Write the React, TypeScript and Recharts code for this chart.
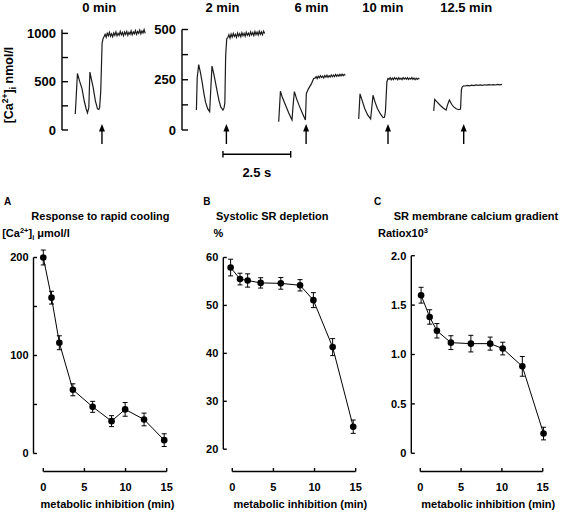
import React from 'react';
import { LineChart, Line, XAxis, YAxis, ErrorBar, ReferenceLine, ReferenceDot } from 'recharts';

const FONT = '"Liberation Sans", Arial, Helvetica, sans-serif';
const PX_PER_S = 27.1;

type Pt = [number, number];

// Ca2+ transients before/after rapid cooling: [time (s), nmol/l]
const trace0min: Pt[] = [
  [0, 166], [0.08, 585], [0.16, 505], [0.25, 425], [0.33, 300], [0.4, 220], [0.45, 178], [0.5, 230],
  [0.54, 600], [0.6, 520], [0.66, 440], [0.74, 305], [0.82, 218], [0.87, 212], [0.9, 235], [0.94, 400],
  [0.97, 700], [0.99, 900], [1.03, 950],
  [1.06, 965], [1.1, 990], [1.14, 960], [1.18, 1000], [1.22, 975], [1.26, 1010], [1.3, 970], [1.34, 995],
  [1.38, 965], [1.42, 1005], [1.46, 980], [1.5, 1015], [1.54, 975], [1.58, 1000], [1.62, 980], [1.66, 1020],
  [1.7, 985], [1.74, 1010], [1.78, 975], [1.82, 1015], [1.86, 990], [1.9, 1020], [1.94, 980], [1.98, 1010],
  [2.02, 990], [2.06, 1025], [2.1, 985], [2.14, 1015], [2.18, 995], [2.22, 1030], [2.26, 990], [2.3, 1020],
  [2.34, 1000], [2.38, 1035], [2.42, 995], [2.46, 1025], [2.5, 1005], [2.54, 1040], [2.58, 1000],
];
const trace2min: Pt[] = [
  [0, 99], [0.03, 260], [0.085, 325], [0.15, 285], [0.21, 239], [0.28, 180], [0.34, 137], [0.42, 105],
  [0.49, 91], [0.53, 200], [0.576, 318], [0.64, 280], [0.7, 239], [0.77, 190], [0.83, 149], [0.9, 115],
  [0.98, 99], [1.02, 110], [1.05, 135], [1.08, 371], [1.12, 454],
  [1.16, 460], [1.2, 474], [1.24, 457], [1.28, 477], [1.32, 462], [1.36, 480], [1.4, 465], [1.44, 476],
  [1.48, 461], [1.52, 482], [1.56, 467], [1.6, 479], [1.64, 464], [1.68, 484], [1.72, 469], [1.76, 481],
  [1.8, 466], [1.84, 486], [1.88, 471], [1.92, 482], [1.96, 469], [2.0, 488], [2.04, 473], [2.08, 485],
  [2.12, 470], [2.16, 490], [2.2, 475], [2.24, 487], [2.28, 472], [2.32, 491], [2.36, 476], [2.4, 488],
  [2.44, 474], [2.48, 492], [2.52, 480],
];
const trace6min: Pt[] = [
  [0, 41], [0.063, 193], [0.14, 160], [0.25, 124], [0.37, 85], [0.49, 50], [0.53, 120], [0.578, 191],
  [0.66, 155], [0.76, 120], [0.87, 85], [0.985, 50], [1.02, 182], [1.1, 206], [1.2, 228], [1.29, 256],
  [1.34, 258], [1.38, 266], [1.42, 256], [1.46, 268], [1.5, 260], [1.54, 270], [1.58, 261], [1.62, 268],
  [1.66, 259], [1.7, 271], [1.74, 263], [1.78, 272], [1.82, 262], [1.86, 270], [1.9, 264], [1.94, 274],
  [1.98, 265], [2.02, 273], [2.06, 266], [2.1, 276], [2.14, 267], [2.18, 275], [2.22, 268], [2.26, 277],
  [2.3, 269], [2.34, 278], [2.38, 270], [2.42, 277], [2.46, 272],
];
const trace10min: Pt[] = [
  [0, 55], [0.048, 180], [0.12, 150], [0.22, 107], [0.33, 75], [0.44, 55], [0.528, 173], [0.6, 140],
  [0.69, 107], [0.8, 80], [0.9, 62], [0.95, 63], [0.985, 90], [1.04, 239], [1.08, 256],
  [1.12, 252], [1.16, 260], [1.2, 250], [1.24, 258], [1.28, 251], [1.32, 261], [1.36, 253], [1.4, 259],
  [1.44, 250], [1.48, 260], [1.52, 252], [1.56, 258], [1.6, 251], [1.64, 261], [1.68, 253], [1.72, 259],
  [1.76, 252], [1.8, 260], [1.84, 251], [1.88, 258], [1.92, 253], [1.96, 261], [2.0, 252], [2.04, 259],
  [2.08, 250], [2.12, 258], [2.16, 252], [2.2, 257], [2.24, 254],
];
const trace12min: Pt[] = [
  [0, 95], [0.037, 152], [0.12, 140], [0.247, 122], [0.36, 108], [0.458, 99], [0.51, 125], [0.579, 149],
  [0.66, 128], [0.738, 115], [0.83, 106], [0.923, 101], [0.99, 104], [1.022, 200], [1.048, 214], [1.107, 220],
  [1.16, 219], [1.24, 222], [1.32, 220], [1.4, 223], [1.48, 221], [1.56, 224], [1.64, 222], [1.72, 224],
  [1.8, 222], [1.88, 225], [1.96, 223], [2.04, 226], [2.12, 224], [2.2, 226], [2.28, 224], [2.36, 227],
  [2.44, 225], [2.52, 227],
];

const traceTitles = ['0 min', '2 min', '6 min', '10 min', '12.5 min'];
const coolAt = [0.985, 1.107, 1.011, 1.081, 1.107];
const scaleBar = [0.98, 3.48]; // 2.5 s

// panel A: response to rapid cooling (umol/l)
const timeA = [0, 1, 1.95, 3.6, 6, 8.3, 9.95, 12.25, 14.7];
const coolResp = [200, 159, 113, 65, 47.6, 33, 45, 34.7, 13.6];
const coolErr = [7.6, 6.5, 7.1, 6.1, 5.6, 5.6, 7, 6.5, 6.5];

// panel B: systolic SR depletion (%)
const timeB = [-0.2, 0.94, 1.87, 3.45, 5.9, 8.24, 9.86, 12.2, 14.7];
const depletion = [57.9, 55.5, 55.2, 54.7, 54.6, 54.2, 51.1, 41.3, 24.7];
const depletionErr = [1.74, 1.22, 1.39, 1.08, 1.22, 1.18, 1.56, 1.77, 1.39];

// panel C: SR membrane calcium gradient (ratio x10^3)
const timeC = [0.1, 1.15, 2.04, 3.75, 6.2, 8.56, 10.1, 12.5, 15.1];
const gradient = [1.6, 1.38, 1.24, 1.12, 1.11, 1.11, 1.06, 0.88, 0.2];
const gradientErr = [0.08, 0.073, 0.073, 0.07, 0.084, 0.066, 0.064, 0.1, 0.064];

const txt = { fontFamily: FONT, fontWeight: 'bold' as const, fill: '#000' };

const Arrow = (p: any) => (
  <g>
    <line x1={p.cx} x2={p.cx} y1={p.cy} y2={p.cy + 14} stroke="#000" strokeWidth={1.4} />
    <polygon points={`${p.cx},${p.cy - 6} ${p.cx - 3},${p.cy + 1.5} ${p.cx + 3},${p.cy + 1.5}`} fill="#000" />
  </g>
);

const ScaleBar = (p: any) => {
  const y = p.y1 + 24.3;
  return (
    <g>
      <line x1={p.x1} x2={p.x2} y1={y} y2={y} stroke="#000" strokeWidth={1.4} />
      <line x1={p.x1} x2={p.x1} y1={y - 3.3} y2={y + 3.3} stroke="#000" strokeWidth={1.4} />
      <line x1={p.x2} x2={p.x2} y1={y - 3.3} y2={y + 3.3} stroke="#000" strokeWidth={1.4} />
      <text x={(p.x1 + p.x2) / 2} y={y + 22.4} textAnchor="middle" fontSize={13} {...txt}>2.5 s</text>
    </g>
  );
};

interface TraceProps {
  data: Pt[];
  yMax: number;
  start: number;
  tMin: number;
  tMax: number;
  cool: number;
  ticks?: number[];
  labelled?: number[];
  children?: React.ReactNode;
}

const TraceChart = ({ data, yMax, start, tMin, tMax, cool, ticks, labelled = [], children }: TraceProps) => {
  const yw = ticks ? 40 : 0;
  const plotW = (tMax - tMin) * PX_PER_S;
  const left = start + tMin * PX_PER_S - yw;
  const rows = data.map(([t, v]) => ({ t, v }));
  return (
    <div style={{ position: 'absolute', left, top: 20 }}>
      <LineChart width={yw + plotW + 2} height={160} data={rows} margin={{ top: 9.5, right: 2, bottom: 50, left: 0 }}>
        <XAxis type="number" dataKey="t" domain={[tMin, tMax]} hide />
        <YAxis
          type="number"
          domain={[0, yMax]}
          hide={!ticks}
          width={yw}
          ticks={ticks}
          interval={0}
          axisLine={{ stroke: '#000', strokeWidth: 1.4 }}
          tickLine={false}
          tickSize={0}
          tickMargin={0}
          tick={(p: any) => (
            <g>
              <line x1={p.x} x2={p.x + 6} y1={p.y} y2={p.y} stroke="#000" strokeWidth={1.4} />
              {labelled.includes(p.payload.value) && (
                <text x={p.x - 6} y={p.y} dy="0.36em" textAnchor="end" fontSize={13} {...txt}>
                  {p.payload.value}
                </text>
              )}
            </g>
          )}
        />
        <Line type="linear" dataKey="v" stroke="#1c1c1c" strokeWidth={1.2} dot={false} isAnimationActive={false} />
        <ReferenceDot x={cool} y={0} shape={Arrow} />
        {children}
      </LineChart>
    </div>
  );
};

interface PanelProps {
  left: number;
  width: number;
  yw: number;
  right: number;
  top: number;
  time: number[];
  values: number[];
  errors: number[];
  xMin: number;
  yDomain: [number, number];
  yTicks: number[];
  yLabelled: number[];
  fmt: (v: number) => string;
}

const Panel = ({ left, width, yw, right, top, time, values, errors, xMin, yDomain, yTicks, yLabelled, fmt }: PanelProps) => {
  const rows = time.map((t, i) => ({ t, v: values[i], e: errors[i] }));
  const yLow = yTicks[0];
  const yHigh = yTicks[yTicks.length - 1];
  return (
    <div style={{ position: 'absolute', left, top: 240 }}>
      <LineChart width={width} height={273} data={rows} margin={{ top: top - 240, right, bottom: 0, left: 0 }}>
        <XAxis
          type="number"
          dataKey="t"
          domain={[xMin, 16]}
          allowDataOverflow
          ticks={[0, 5, 10, 15]}
          interval={0}
          height={41.5}
          axisLine={false}
          tickLine={false}
          tickSize={0}
          tickMargin={0}
          tick={(p: any) => (
            <g>
              <line x1={p.x} x2={p.x} y1={p.y} y2={p.y - 3.5} stroke="#000" strokeWidth={1.4} />
              <text x={p.x} y={p.y + 19} textAnchor="middle" fontSize={11} {...txt}>
                {p.payload.value}
              </text>
            </g>
          )}
        />
        <YAxis
          type="number"
          domain={yDomain}
          allowDataOverflow
          ticks={yTicks}
          interval={0}
          width={yw}
          axisLine={false}
          tickLine={false}
          tickSize={0}
          tickMargin={0}
          tick={(p: any) => (
            <g>
              <line x1={p.x} x2={p.x + 3.5} y1={p.y} y2={p.y} stroke="#000" strokeWidth={1.4} />
              {yLabelled.includes(p.payload.value) && (
                <text x={p.x - 5} y={p.y} dy="0.36em" textAnchor="end" fontSize={11} {...txt}>
                  {fmt(p.payload.value)}
                </text>
              )}
            </g>
          )}
        />
        <ReferenceLine segment={[{ x: xMin, y: yLow }, { x: xMin, y: yHigh }]} stroke="#000" strokeWidth={1.4} ifOverflow="visible" />
        <ReferenceLine segment={[{ x: 0, y: yDomain[0] }, { x: 15, y: yDomain[0] }]} stroke="#000" strokeWidth={1.4} ifOverflow="visible" />
        <Line
          type="linear"
          dataKey="v"
          stroke="#000"
          strokeWidth={1}
          dot={{ r: 3.3, fill: '#000', stroke: 'none' }}
          isAnimationActive={false}
        >
          <ErrorBar dataKey="e" width={2.5} stroke="#000" strokeWidth={1} direction="y" />
        </Line>
      </LineChart>
    </div>
  );
};

const TITLE_X = [99.2, 222.5, 311.5, 382.8, 466.2];

export default function App() {
  return (
    <div style={{ position: 'absolute', left: 0, top: 0, width: 567, height: 513, background: '#fff' }}>
      <TraceChart data={trace0min} yMax={1000} start={75} tMin={-0.49} tMax={2.62} cool={coolAt[0]}
        ticks={[0, 250, 500, 750, 1000]} labelled={[0, 500, 1000]} />
      <TraceChart data={trace2min} yMax={500} start={196.7} tMin={-0.531} tMax={3.55} cool={coolAt[1]}
        ticks={[0, 125, 250, 375, 500]} labelled={[0, 250, 500]}>
        <ReferenceLine segment={[{ x: scaleBar[0], y: 0 }, { x: scaleBar[1], y: 0 }]} ifOverflow="visible" shape={ScaleBar} />
      </TraceChart>
      <TraceChart data={trace6min} yMax={500} start={278.3} tMin={-0.1} tMax={2.55} cool={coolAt[2]} />
      <TraceChart data={trace10min} yMax={500} start={359} tMin={-0.1} tMax={2.35} cool={coolAt[3]} />
      <TraceChart data={trace12min} yMax={500} start={433.3} tMin={-0.1} tMax={2.6} cool={coolAt[4]} />

      <Panel left={0} width={180} yw={33.5} right={5.1} top={247.7} time={timeA} values={coolResp} errors={coolErr}
        xMin={-1.19} yDomain={[-18.4, 210]} yTicks={[0, 50, 100, 150, 200]} yLabelled={[0, 100, 200]} fmt={(v) => String(v)} />
      <Panel left={180} width={190} yw={43.3} right={6.1} top={247.9} time={timeB} values={depletion} errors={depletionErr}
        xMin={-1.09} yDomain={[15.35, 62]} yTicks={[20, 30, 40, 50, 60]} yLabelled={[20, 30, 40, 50, 60]} fmt={(v) => String(v)} />
      <Panel left={367} width={200} yw={44.3} right={16.1} top={245.8} time={timeC} values={gradient} errors={gradientErr}
        xMin={-1.1} yDomain={[-0.184, 2.1]} yTicks={[0, 0.5, 1, 1.5, 2]} yLabelled={[0, 0.5, 1, 1.5, 2]}
        fmt={(v) => (v === 0 ? '0' : v.toFixed(1))} />

      <svg width={567} height={513} style={{ position: 'absolute', left: 0, top: 0, pointerEvents: 'none' }}>
        {traceTitles.map((s, i) => (
          <text key={s} x={TITLE_X[i]} y={11.5} textAnchor="middle" fontSize={13} {...txt}>{s}</text>
        ))}
        <text transform="translate(12.5,85) rotate(-90)" textAnchor="middle" fontSize={12.5} {...txt}>
          [Ca<tspan fontSize={8.5} dy={-5}>2+</tspan><tspan dy={5}>]</tspan><tspan fontSize={8.5} dy={3}>i</tspan>
          <tspan dy={-3}>{' nmol/l'}</tspan>
        </text>

        <text x={4} y={205} fontSize={10} {...txt}>A</text>
        <text x={203.3} y={205} fontSize={10} {...txt}>B</text>
        <text x={374} y={205} fontSize={10} {...txt}>C</text>

        <text x={100.4} y={219.5} textAnchor="middle" fontSize={11} {...txt}>Response to rapid cooling</text>
        <text x={272.2} y={219.5} textAnchor="middle" fontSize={11} {...txt}>Systolic SR depletion</text>
        <text x={476} y={219.5} textAnchor="middle" fontSize={11} {...txt}>SR membrane calcium gradient</text>

        <text x={2.2} y={237.4} fontSize={11} {...txt}>
          [Ca<tspan fontSize={7.5} dy={-4}>2+</tspan><tspan dy={4}>]</tspan><tspan fontSize={7.5} dy={2.5}>i</tspan>
          <tspan dy={-2.5}>{' μmol/l'}</tspan>
        </text>
        <text x={213.4} y={237.4} fontSize={11} {...txt}>%</text>
        <text x={378} y={237.4} fontSize={11} {...txt}>
          Ratiox10<tspan fontSize={7.5} dy={-4}>3</tspan>
        </text>

        <text x={107.5} y={508} textAnchor="middle" fontSize={11} {...txt}>metabolic inhibition (min)</text>
        <text x={300.3} y={508} textAnchor="middle" fontSize={11} {...txt}>metabolic inhibition (min)</text>
        <text x={488.2} y={508} textAnchor="middle" fontSize={11} {...txt}>metabolic inhibition (min)</text>
      </svg>
    </div>
  );
}
